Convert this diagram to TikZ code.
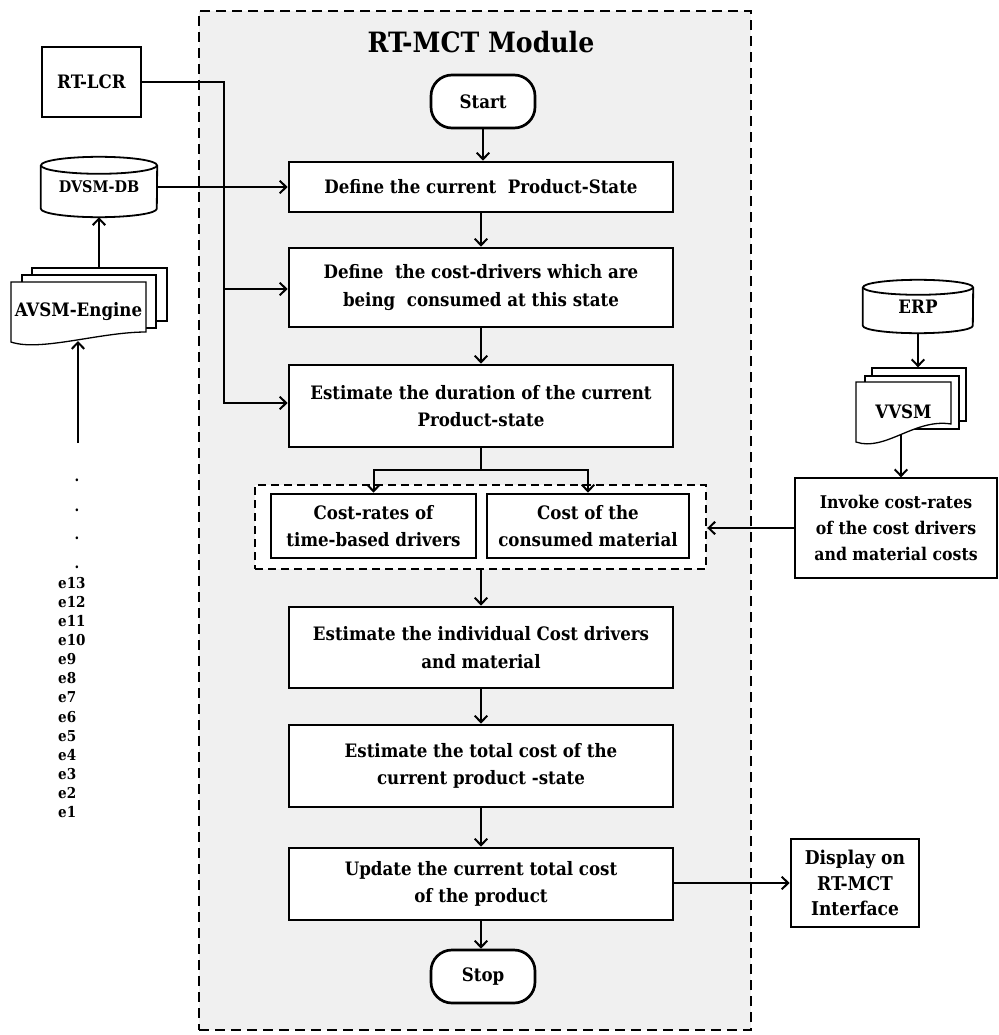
\documentclass[tikz,border=0pt]{standalone}
\usepackage{fontspec}
\setmainfont{DejaVu Serif Condensed}
\usetikzlibrary{arrows.meta,calc}
\definecolor{modfill}{HTML}{F0F0F0}
\newcommand{\dbcyl}[3]{% node, x radius, y radius
  \draw[db] ($(#1.north west)+(0,#3)$) -- ($(#1.south west)+(0,-#3)$)
    arc[start angle=180,end angle=0,x radius=#2,y radius=#3]
    -- ($(#1.north east)+(0,#3)$);
  \draw[db] ($(#1.north)+(0,#3)$) ellipse[x radius=#2,y radius=#3];
}
\begin{document}
\begin{tikzpicture}[x=1pt,y=-1pt,
  txt/.style={font=\bfseries\fontsize{18.5}{27.5}\selectfont},
  box/.style={txt, draw, fill=white, line width=2.7pt, align=center, inner sep=0pt},
  proc/.style={box, minimum width=384pt},
  term/.style={box, rounded corners=21pt, minimum width=104pt, minimum height=53pt},
  thinbox/.style={txt, draw, fill=white, line width=1.3pt, align=center, inner sep=0pt},
  paper/.style={draw, fill=white, line width=1.3pt},
  db/.style={line width=1.8pt},
  wire/.style={line width=2pt},
  conn/.style={wire, -{Straight Barb[length=6.5pt,width=12.5pt]}},
  elab/.style={font=\bfseries\fontsize{15}{19.1}\selectfont},
]
\useasboundingbox (0,0) rectangle (998,1035);

% module frame
\node[draw, fill=modfill, line width=2.6pt, dash pattern=on 10pt off 6pt,
      minimum width=552pt, minimum height=1019pt, inner sep=0pt] (module) at (475,520.5) {};
\node[font=\bfseries\fontsize{28}{30}\selectfont] (title) at (481,42) {RT-MCT Module};

% main flow
\node[term] (start) at (483,101.5) {Start};
\node[proc, minimum height=50pt] (b1) at (481,187) {Define the current\ \ Product-State};
\node[proc, minimum height=79pt] (b2) at (481,287.5) {Define\ \ the cost-drivers which are\\being\ \ consumed at this state};
\node[proc, minimum height=82pt] (b3) at (481,406) {Estimate the duration of the current\\Product-state};

\node[draw, fill=white, line width=2.4pt, dash pattern=on 8pt off 5pt,
      minimum width=451pt, minimum height=84pt, inner sep=0pt] (grp) at (480.5,527) {};
\node[box, minimum width=205pt, minimum height=64pt] (c1) at (373.5,526) {Cost-rates of\\time-based drivers};
\node[box, minimum width=202pt, minimum height=64pt] (c2) at (588,526) {Cost of the\\consumed material};

\node[proc, minimum height=81pt] (b4) at (481,647.5) {Estimate the individual Cost drivers\\and material};
\node[proc, minimum height=82pt] (b5) at (481,766) {Estimate the total cost of the\\current product -state};
\node[proc, minimum height=72pt] (b6) at (481,884) {Update the current total cost\\of the product};
\node[term] (stop) at (483,976.5) {Stop};

\node[box, minimum width=128pt, minimum height=88pt, font=\bfseries\fontsize{19}{25.5}\selectfont] (disp) at (855,883) {Display on\\RT-MCT\\Interface};

% left side sources
\node[thinbox, minimum width=99pt, minimum height=70pt] (rtlcr) at (91.5,82) {RT-LCR};
\node[txt, font=\bfseries\fontsize{16}{18}\selectfont, minimum width=116pt, minimum height=60pt, inner sep=0pt] (dvsm) at (99,187) {\raisebox{-5pt}{DVSM-DB}};
\dbcyl{dvsm}{58}{8.5}

\node[paper, minimum width=135pt, minimum height=53pt, inner sep=0pt] (avsmback) at (99.5,294.5) {};
\node[paper, minimum width=134pt, minimum height=53pt, inner sep=0pt] (avsmmid) at (89,301.5) {};
\draw[paper] (11,342) -- (11,282) -- (146,282) -- (146,332)
  .. controls (100,332) and (40,352) .. (11,342) -- cycle;
\node[txt, minimum width=135pt, minimum height=60pt, inner sep=0pt] (avsm) at (78.5,312) {AVSM-Engine};
\coordinate (avsmin) at (78,341);
\coordinate (etop) at (78,443);

\foreach \i/\y in {1/480,2/510,3/538,4/567}
  \node[elab] (dot\i) at (77,\y) {.};
\node[elab, align=left, anchor=north west, inner sep=0pt] (elist) at (58,577)
  {e13\\e12\\e11\\e10\\e9\\e8\\e7\\e6\\e5\\e4\\e3\\e2\\e1};

% right side sources
\node[txt, minimum width=110pt, minimum height=53pt, inner sep=0pt] (erp) at (918,306.5) {\raisebox{-8pt}{ERP}};
\dbcyl{erp}{55}{7.5}

\node[paper, minimum width=94pt, minimum height=53pt, inner sep=0pt] (vvsmback) at (919,394.5) {};
\node[paper, minimum width=94pt, minimum height=53pt, inner sep=0pt] (vvsmmid) at (912,402.5) {};
\draw[paper] (856,442) -- (856,382) -- (951,382) -- (951,424)
  .. controls (915,418) and (885,452) .. (856,442) -- cycle;
\node[txt, minimum width=95pt, minimum height=60pt, inner sep=0pt] (vvsm) at (903.5,412) {VVSM};
\coordinate (vvsmout) at (901,435);

\node[thinbox, minimum width=202pt, minimum height=100pt, font=\bfseries\fontsize{17.5}{26}\selectfont] (inv) at (896,528) {Invoke cost-rates\\of the cost drivers\\and material costs};

% connectors
\coordinate (busmid) at (224,289);
\coordinate (busbot) at (224,403);
\draw[conn] (rtlcr.east) -| (busbot) -- (b3.west |- busbot);
\draw[conn] (busmid) -- (b2.west |- busmid);
\draw[conn] (dvsm.east) -- (b1.west);
\draw[conn] (dvsm.south |- avsmback.north) -- (dvsm.south);
\draw[conn] (etop) -- (avsmin);

\draw[conn] (start.south) -- (start.south |- b1.north);
\draw[conn] (b1.south) -- (b2.north);
\draw[conn] (b2.south) -- (b3.north);
\coordinate (split) at (481,470);
\draw[wire] (b3.south) -- (split);
\draw[conn] (split) -| (c1.north);
\draw[conn] (split) -| (c2.north);
\draw[conn] (b4.north |- grp.south) -- (b4.north);
\draw[conn] (b4.south) -- (b5.north);
\draw[conn] (b5.south) -- (b6.north);
\draw[conn] (b6.south) -- (stop.north -| b6.south);
\draw[conn] (b6.east |- disp.west) -- (disp.west);

\draw[conn] (erp.south) -- (erp.south |- vvsmback.north);
\draw[conn] (vvsmout) -- (vvsmout |- inv.north);
\draw[conn] (inv.west) -- (grp.east |- inv.west);
\end{tikzpicture}
\end{document}
